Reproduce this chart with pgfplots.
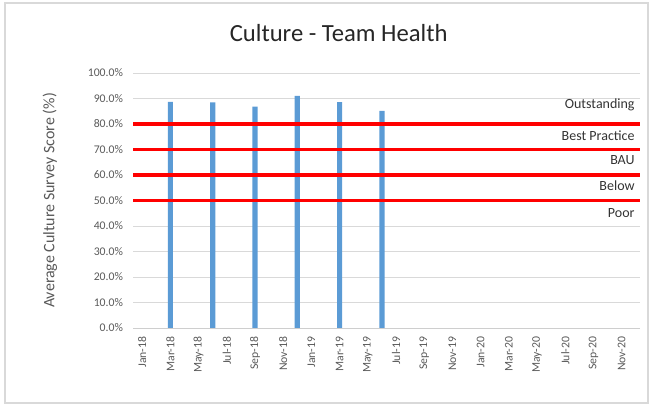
\documentclass[border=0pt]{standalone}
\usepackage{pgfplots}
\pgfplotsset{compat=1.18}
\usepackage{fontspec}
\setmainfont{Carlito}
\definecolor{barblue}{HTML}{5B9BD5}
\definecolor{gridgray}{HTML}{D9D9D9}
\definecolor{txtgray}{HTML}{595959}
\begin{document}
\begin{tikzpicture}
% 1 px of the reference = 0.75pt
\path[use as bounding box] (0pt,0pt) rectangle (489.75pt,304.5pt);
\draw[gridgray, line width=0.8pt] (3.75pt,2.25pt) rectangle (486pt,302.25pt);
\node[font=\fontsize{18.5}{20}\selectfont, text=black!85] at (254pt,280pt) {Culture - Team Health};
\begin{axis}[
    at={(99.75pt,58.5pt)}, anchor=south west,
    scale only axis,
    width=380.25pt, height=191.25pt,
    xmin=-0.65, xmax=35.3,
    ymin=0, ymax=100,
    ytick={0,10,...,100},
    yticklabel={\pgfmathprintnumber[fixed,fixed zerofill,precision=1]{\tick}\%},
    /pgf/number format/assume math mode=true,
    xtick={0,2,...,34},
    xticklabels={Jan-18,Mar-18,May-18,Jul-18,Sep-18,Nov-18,Jan-19,Mar-19,May-19,Jul-19,Sep-19,Nov-19,Jan-20,Mar-20,May-20,Jul-20,Sep-20,Nov-20},
    xticklabel style={rotate=90, anchor=east, font=\fontsize{8.8}{9}\selectfont, text=txtgray, xshift=-3pt},
    yticklabel style={font=\fontsize{8.8}{9}\selectfont, text=txtgray, xshift=-4pt},
    ylabel={Average Culture Survey Score (\%)},
    ylabel style={font=\fontsize{12}{14}\selectfont, text=txtgray,
        at={(axis description cs:-0.164,0.5)}, anchor=center},
    ymajorgrids, grid style={gridgray, line width=0.6pt},
    axis y line*=left, y axis line style={draw=none},
    axis x line*=bottom, x axis line style={gridgray!80!black!60, line width=0.6pt},
    major tick length=0pt,
    clip=false,
]
\addplot[ybar, bar width=3.9pt, fill=barblue, draw=none] coordinates {
    (2,88.7) (5,88.5) (8,86.8) (11,91.0) (14,88.6) (17,85.1)
};
\addplot[red, line width=2.3pt, forget plot] coordinates {(-0.65,80) (35.3,80)};
\addplot[red, line width=2.3pt, forget plot] coordinates {(-0.65,70) (35.3,70)};
\addplot[red, line width=2.3pt, forget plot] coordinates {(-0.65,60) (35.3,60)};
\addplot[red, line width=2.3pt, forget plot] coordinates {(-0.65,50) (35.3,50)};
\node[anchor=east, font=\fontsize{10.5}{11}\selectfont, text=black!80] at (axis cs:35.25,87.5) {Outstanding};
\node[anchor=east, font=\fontsize{10.5}{11}\selectfont, text=black!80] at (axis cs:35.25,75.5) {Best Practice};
\node[anchor=east, font=\fontsize{10.5}{11}\selectfont, text=black!80] at (axis cs:35.25,66) {BAU};
\node[anchor=east, font=\fontsize{10.5}{11}\selectfont, text=black!80] at (axis cs:35.25,55.8) {Below};
\node[anchor=east, font=\fontsize{10.5}{11}\selectfont, text=black!80] at (axis cs:35.25,45) {Poor};
\end{axis}
\end{tikzpicture}
\end{document}
